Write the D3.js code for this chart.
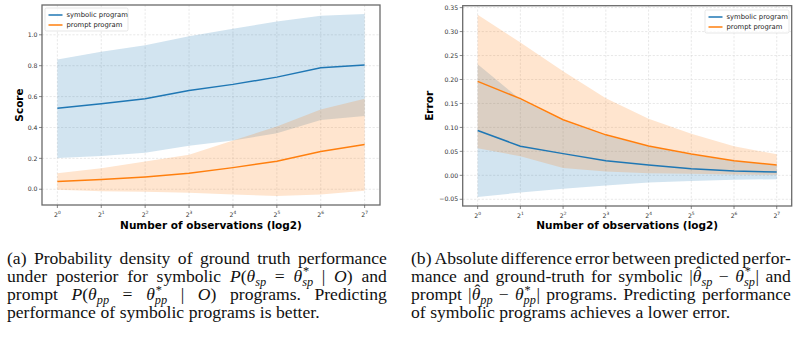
<!DOCTYPE html>
<html><head><meta charset="utf-8">
<script src="https://cdn.jsdelivr.net/npm/d3@7"></script>
<style>body{margin:0;background:#fff}svg{display:block}</style>
</head><body>
<svg id="c" width="808" height="341"></svg>
<script>
// ---------------- DATA ----------------
const exponents = [0,1,2,3,4,5,6,7];
const seriesNames = ["symbolic program","prompt program"];
// (a) Score
const scoreSymMean  = [0.524,0.554,0.586,0.640,0.679,0.726,0.787,0.804];
const scoreSymUpper = [0.840,0.890,0.933,0.991,1.040,1.086,1.123,1.134];
const scoreSymLower = [0.203,0.216,0.237,0.282,0.315,0.362,0.448,0.474];
const scorePrMean   = [0.050,0.063,0.080,0.103,0.140,0.181,0.244,0.289];
const scorePrUpper  = [0.103,0.136,0.179,0.224,0.315,0.407,0.517,0.586];
const scorePrLower  = [-0.004,-0.013,-0.017,-0.022,-0.034,-0.043,-0.034,-0.009];
const scoreTicks = [0.0,0.2,0.4,0.6,0.8,1.0];
// (b) Error
const errSymMean  = [0.0936,0.0607,0.0453,0.0305,0.0214,0.0137,0.0088,0.0067];
const errSymUpper = [0.232,0.158,0.114,0.083,0.060,0.043,0.030,0.021];
const errSymLower = [-0.045,-0.036,-0.028,-0.021,-0.015,-0.012,-0.0094,-0.008];
const errPrMean   = [0.196,0.160,0.116,0.0845,0.0614,0.0446,0.0305,0.0214];
const errPrUpper  = [0.335,0.277,0.217,0.161,0.118,0.0866,0.0607,0.0439];
const errPrLower  = [0.0565,0.0397,0.0151,0.0081,0.0046,0.0032,0.0018,0.001];
const errTicks = [-0.05,0.00,0.05,0.10,0.15,0.20,0.25,0.30,0.35];
const xLabel = "Number of observations (log2)";

const BLUE="#1f77b4", ORANGE="#ff7f0e";
const svg = d3.select("#c");

function panel(o){
  const g = svg.append("g");
  const x = d3.scaleLinear().domain([-0.35,7.35]).range([o.x0,o.x1]);
  const y = d3.scaleLinear().domain(o.ydom).range([o.y1,o.y0]);
  // grid
  g.append("g").selectAll("line").data(exponents).join("line")
    .attr("x1",d=>x(d)).attr("x2",d=>x(d)).attr("y1",o.y0).attr("y2",o.y1)
    .attr("stroke","#d9d9d9").attr("stroke-width",0.6).attr("stroke-dasharray","2.2,1.6");
  g.append("g").selectAll("line").data(o.yticks).join("line")
    .attr("x1",o.x0).attr("x2",o.x1).attr("y1",d=>y(d)).attr("y2",d=>y(d))
    .attr("stroke","#d9d9d9").attr("stroke-width",0.6).attr("stroke-dasharray","2.2,1.6");
  const area=(lo,hi)=>d3.area().x((d,i)=>x(exponents[i])).y0((d,i)=>y(lo[i])).y1((d,i)=>y(hi[i]));
  const line=d3.line().x((d,i)=>x(exponents[i])).y(d=>y(d));
  g.append("path").datum(o.s.lo).attr("d",area(o.s.lo,o.s.hi)).attr("fill",BLUE).attr("fill-opacity",0.2);
  g.append("path").datum(o.p.lo).attr("d",area(o.p.lo,o.p.hi)).attr("fill",ORANGE).attr("fill-opacity",0.2);
  g.append("path").datum(o.s.m).attr("d",line).attr("fill","none").attr("stroke",BLUE).attr("stroke-width",1.5);
  g.append("path").datum(o.p.m).attr("d",line).attr("fill","none").attr("stroke",ORANGE).attr("stroke-width",1.5);
  // frame
  g.append("rect").attr("x",o.x0).attr("y",o.y0).attr("width",o.x1-o.x0).attr("height",o.y1-o.y0)
    .attr("fill","none").attr("stroke","#6a6a6a").attr("stroke-width",1.3);
  // y ticks
  const yt = g.append("g").selectAll("g").data(o.yticks).join("g");
  yt.append("line").attr("x1",o.x0-3).attr("x2",o.x0).attr("y1",d=>y(d)).attr("y2",d=>y(d)).attr("stroke","#555").attr("stroke-width",0.7);
  yt.append("text").attr("x",o.x0-4.5).attr("y",d=>y(d)).attr("dy","0.35em").attr("text-anchor","end")
    .attr("font-family","DejaVu Sans").attr("font-size",6.2).attr("fill","#333")
    .text(d=>o.yfmt(d).replace("-","\u2212"));
  // x ticks
  const xt = g.append("g").selectAll("g").data(exponents).join("g");
  xt.append("line").attr("x1",d=>x(d)).attr("x2",d=>x(d)).attr("y1",o.y1).attr("y2",o.y1+3).attr("stroke","#555").attr("stroke-width",0.7);
  const tt = xt.append("text").attr("x",d=>x(d)).attr("y",o.y1+11.5).attr("text-anchor","middle")
    .attr("font-family","DejaVu Sans").attr("font-size",6.2).attr("fill","#333");
  tt.append("tspan").text("2");
  tt.append("tspan").attr("dy",-2.6).attr("font-size",4.4).text(d=>d);
  // labels
  g.append("text").attr("x",(o.x0+o.x1)/2).attr("y",228.5).attr("text-anchor","middle")
    .attr("font-family","DejaVu Sans").attr("font-weight","bold").attr("font-size",10.5).attr("fill","#000").text(xLabel);
  g.append("text").attr("transform",`translate(${o.ylx},${(o.y0+o.y1)/2}) rotate(-90)`).attr("text-anchor","middle")
    .attr("dy","0.35em").attr("font-family","DejaVu Sans").attr("font-weight","bold").attr("font-size",10.5).attr("fill","#000").text(o.ylabel);
  // legend
  const L=o.leg;
  g.append("rect").attr("x",L.x).attr("y",L.y).attr("width",L.w).attr("height",23).attr("rx",1.5)
    .attr("fill","#fff").attr("fill-opacity",0.8).attr("stroke","#ddd").attr("stroke-width",0.7);
  seriesNames.forEach((n,i)=>{
    const yy=L.y+7+i*10;
    g.append("line").attr("x1",L.x+3.5).attr("x2",L.x+17.5).attr("y1",yy).attr("y2",yy).attr("stroke",i?ORANGE:BLUE).attr("stroke-width",1.5);
    g.append("text").attr("x",L.x+21.5).attr("y",yy).attr("dy","0.35em").attr("font-family","DejaVu Sans").attr("font-size",6.8).attr("fill","#222").text(n);
  });
}

panel({x0:42,x1:380,y0:5,y1:205,ydom:[-0.102,1.193],yticks:scoreTicks,yfmt:d3.format(".1f"),ylabel:"Score",ylx:19,
  s:{m:scoreSymMean,hi:scoreSymUpper,lo:scoreSymLower},p:{m:scorePrMean,hi:scorePrUpper,lo:scorePrLower},
  leg:{x:45,y:8,w:83}});
panel({x0:462.7,x1:791.7,y0:5.7,y1:206,ydom:[-0.064,0.354],yticks:errTicks,yfmt:d3.format(".2f"),ylabel:"Error",ylx:429,
  s:{m:errSymMean,hi:errSymUpper,lo:errSymLower},p:{m:errPrMean,hi:errPrUpper,lo:errPrLower},
  leg:{x:705,y:10,w:84}});

// ---------------- CAPTIONS ----------------
const FS=17.6, FF="Liberation Serif", LH=18.3, SS=FS*0.7;
function W(s){return [{t:s}];}
const theta="\u03B8";
const capA=[
 {j:true, words:["(a)","Probability","density","of","ground","truth","performance"].map(W)},
 {j:true, words:[W("under"),W("posterior"),W("for"),W("symbolic"),
   [{t:"P",i:1},{t:"(",},{t:theta,i:1},{sub:"sp"}],[{t:"="}],[{t:theta,i:1},{ss:{sup:"*",sub:"sp"}}],[{t:"|"}],[{t:"O",i:1},{t:")"}],W("and")]},
 {j:true, words:[W("prompt"),[{t:"P",i:1},{t:"("},{t:theta,i:1},{sub:"pp"}],[{t:"="}],[{t:theta,i:1},{ss:{sup:"*",sub:"pp"}}],[{t:"|"}],[{t:"O",i:1},{t:")"}],W("programs."),W("Predicting")]},
 {j:false, words:["performance","of","symbolic","programs","is","better."].map(W)}
];
const capB=[
 {j:true, words:["(b)","Absolute","difference","error","between","predicted","perfor-"].map(W)},
 {j:true, words:[W("mance"),W("and"),W("ground-truth"),W("for"),W("symbolic"),
   [{t:"|"},{hat:theta},{sub:"sp"}],[{t:"\u2212"}],[{t:theta,i:1},{ss:{sup:"*",sub:"sp"}},{t:"|"}],W("and")]},
 {j:true, words:[W("prompt"),[{t:"|"},{hat:theta},{sub:"pp"}],[{t:"\u2212"}],[{t:theta,i:1},{ss:{sup:"*",sub:"pp"}},{t:"|"}],W("programs."),W("Predicting"),W("performance")]},
 {j:false, words:["of","symbolic","programs","achieves","a","lower","error."].map(W)}
];
// each word = one <text> with tspans
function drawWord(g,runs){
  const txt=g.append("text").attr("x",0).attr("y",0).attr("font-family",FF).attr("font-size",FS).attr("fill","#111");
  let off=0, pend=0;
  const ts=(s,size,italic,targetOff,dx)=>{
    const t=txt.append("tspan").attr("font-size",size).attr("font-style",italic?"italic":"normal")
      .attr("dy",targetOff-off).text(s);
    const ddx=(dx||0)+pend; pend=0;
    if(ddx) t.attr("dx",ddx);
    off=targetOff;
    return t;
  };
  const len=t=>t.node().getComputedTextLength();
  runs.forEach(r=>{
    if(r.t!==undefined){ts(r.t,FS,r.i,0);}
    else if(r.hat){
      const w=len(ts(r.hat,FS,1,0));
      const h=ts("\u02C6",FS,0,-4.2);
      const hW=len(h);
      h.attr("dx",-(w/2+hW/2)+1.6);
      pend=w/2-1.6-hW/2;
    }
    else if(r.sub){ts(r.sub,SS,1,3.8); pend=0.6;}
    else if(r.ss){
      const a=len(ts(r.ss.sup,SS,0,-6.5,0.8));
      ts(r.ss.sub,SS,1,4.2,-(a+0.8));
      pend=0.6;
    }
  });
}
function caption(lines,x0,x1,y0){
  lines.forEach((ln,li)=>{
    const y=y0+li*LH;
    const gs=ln.words.map(w=>{const g=svg.append("g");drawWord(g,w);const bb=g.node().getBBox();return {g,wd:bb.x+bb.width};});
    const tot=d3.sum(gs,d=>d.wd);
    const sp = ln.j ? (x1-x0-tot)/(gs.length-1) : FS*0.25;
    let cx=x0;
    gs.forEach(d=>{d.g.attr("transform",`translate(${cx},${y})`);cx+=d.wd+sp;});
  });
}
caption(capA,7,387,263.5);
caption(capB,411,791,263.5);
</script>
</body></html>
